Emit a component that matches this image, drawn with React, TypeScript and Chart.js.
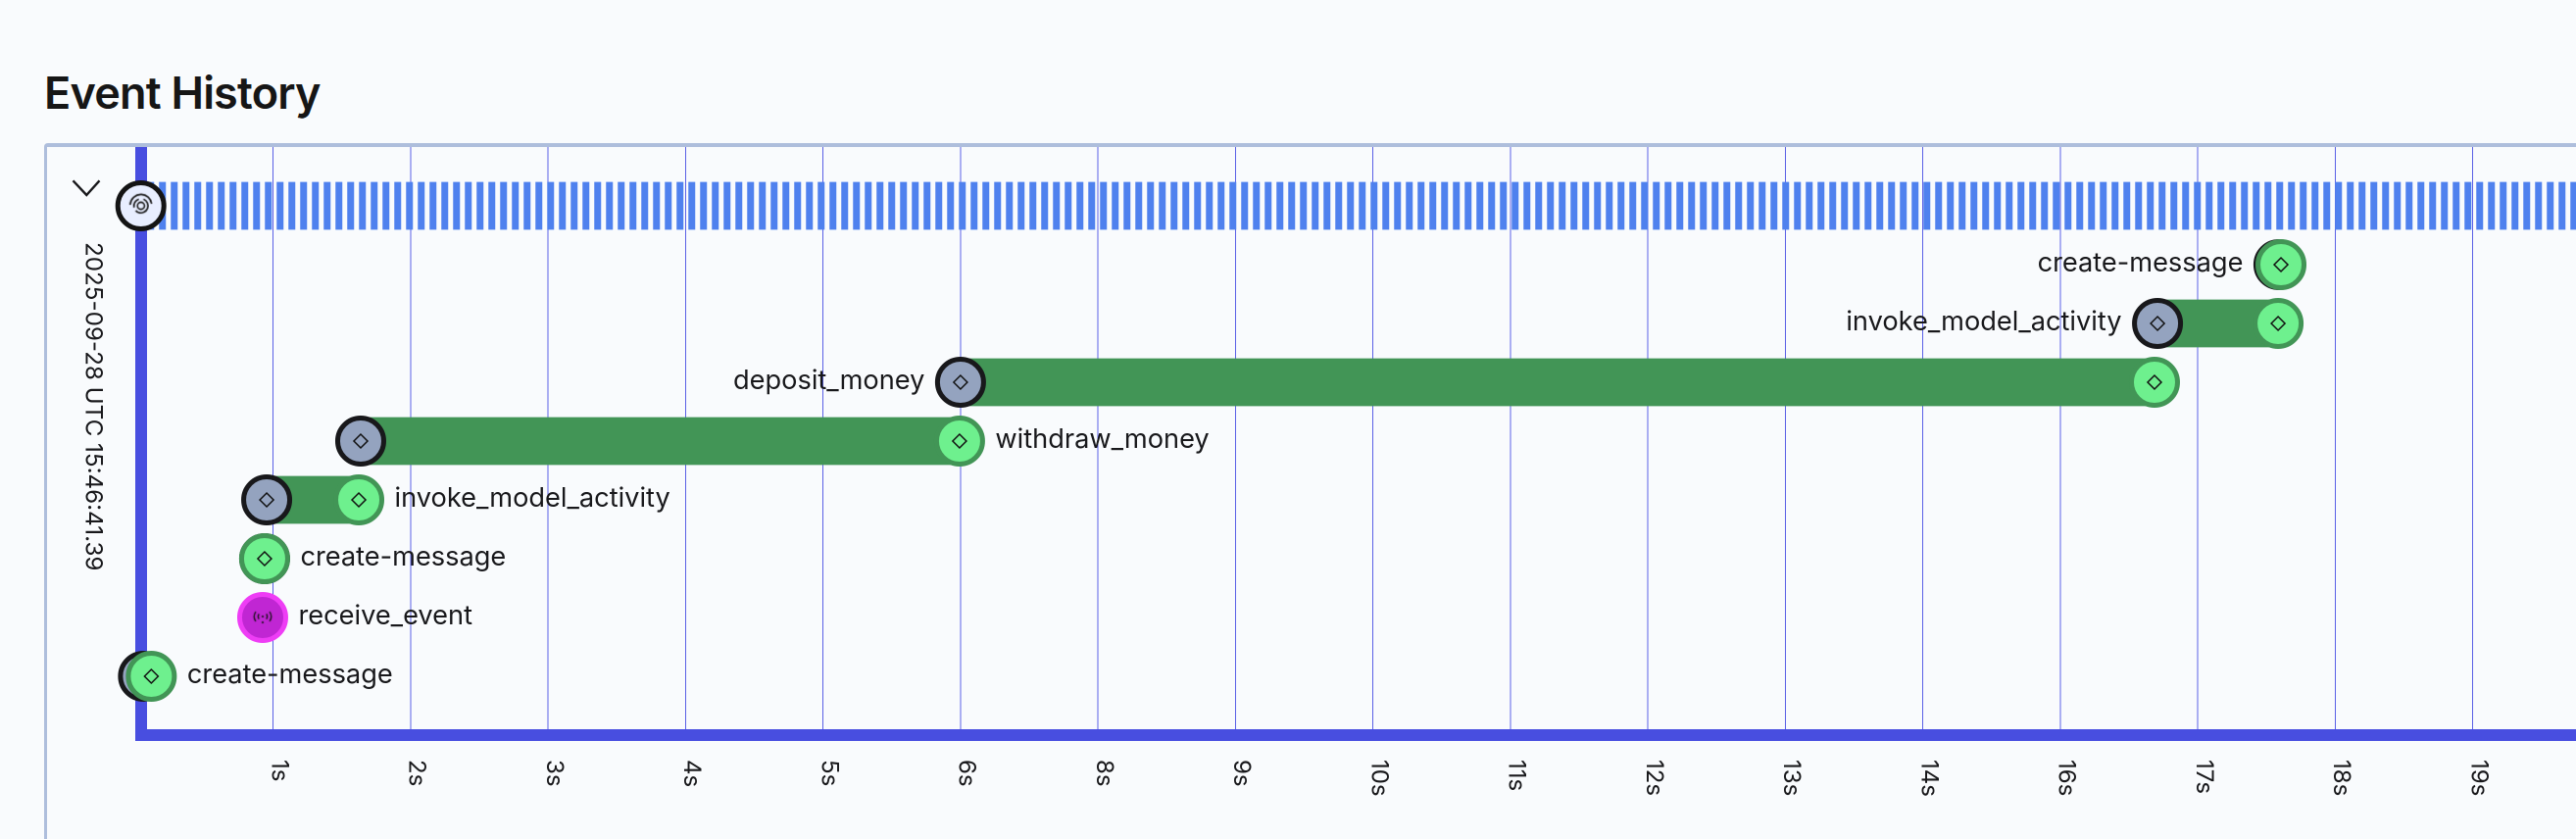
import React, { useEffect, useRef } from "react";
import { Chart, registerables } from "chart.js";

Chart.register(...registerables);

// x values are in axis-tick units: tick n sits at x = n
const TICK_LABELS = ["1s", "2s", "3s", "4s", "5s", "6s", "8s", "9s", "10s", "11s", "12s", "13s", "14s", "16s", "17s", "18s", "19s"];
const X_MIN = 0.04;
const X_MAX = 17.751;

const EVENT_NAMES = ["create-message", "invoke_model_activity", "deposit_money", "withdraw_money", "invoke_model_activity", "create-message", "create-message"];
const EVENT_ROWS = [1, 2, 3, 4, 5, 6, 8];
const EVENT_STARTS = [15.59, 14.707, 6.0, 1.637, 0.953, 0.938, 0.057];
const EVENT_ENDS = [15.605, 15.584, 14.685, 5.993, 1.623, 0.938, 0.114];
const EVENT_LABEL_SIDES = ["left", "left", "left", "right", "right", "right", "right"];

const SIGNAL_NAME = "receive_event";
const SIGNAL_ROW = 7;
const SIGNAL_X = 0.924;

const ROOT_ROW = 0;
const ROOT_X = 0.038;
const TIMESTAMP = "2025-09-28 UTC 15:46:41.39";

const FONT = "Inter, 'Liberation Sans', sans-serif";
const INK = "#18181b";
const AXIS = "#484ee0";

function stripePattern(ctx: CanvasRenderingContext2D) {
  const tile = document.createElement("canvas");
  tile.width = 48;
  tile.height = 4;
  const c = tile.getContext("2d")!;
  c.fillStyle = "#4f81ee";
  // one stripe 6.9 wide per 12 units, phase 6.2
  c.fillRect(25, 0, 23, 4);
  c.fillRect(0, 0, 5, 4);
  const p = ctx.createPattern(tile, "repeat")!;
  p.setTransform(new DOMMatrix().scale(0.25));
  return p;
}

function rootIcon() {
  const cv = document.createElement("canvas");
  cv.width = 30;
  cv.height = 30;
  const c = cv.getContext("2d")!;
  c.strokeStyle = "#141414";
  c.lineWidth = 1.6;
  c.translate(15, 15);
  c.beginPath();
  c.arc(0, 0, 3.6, 0, Math.PI * 2);
  c.stroke();
  c.beginPath();
  c.arc(0, 0, 7.2, -1.2, 2.4);
  c.stroke();
  c.beginPath();
  c.arc(0, 0, 7.2, 2.9, 4.4);
  c.stroke();
  c.beginPath();
  c.arc(0, -0.6, 11, -3.1, -0.15);
  c.stroke();
  return cv;
}

function signalIcon() {
  const cv = document.createElement("canvas");
  cv.width = 30;
  cv.height = 30;
  const c = cv.getContext("2d")!;
  c.strokeStyle = "#111";
  c.fillStyle = "#111";
  c.lineWidth = 1.3;
  c.translate(15, 15);
  for (const [r, a] of [[4.6, 0.6], [8.6, 0.62]] as const) {
    c.beginPath();
    c.arc(0, -1, r, -a, a);
    c.stroke();
    c.beginPath();
    c.arc(0, -1, r, Math.PI - a, Math.PI + a);
    c.stroke();
  }
  c.beginPath();
  c.arc(0, -1, 1.1, 0, Math.PI * 2);
  c.fill();
  c.beginPath();
  c.arc(0, 5, 1.1, 0, Math.PI * 2);
  c.fill();
  return cv;
}

const annotations = {
  id: "annotations",
  afterDatasetsDraw(chart: any) {
    const { ctx, scales } = chart;
    const { x, y } = scales;
    ctx.save();
    ctx.fillStyle = INK;
    ctx.textBaseline = "middle";
    ctx.font = `400 27.2px ${FONT}`;
    const gap = 36.5;
    const lift = 1.4;
    EVENT_NAMES.forEach((name, i) => {
      const py = y.getPixelForValue(EVENT_ROWS[i]) - lift;
      if (EVENT_LABEL_SIDES[i] === "right") {
        ctx.textAlign = "left";
        ctx.fillText(name, x.getPixelForValue(EVENT_ENDS[i]) + gap, py);
      } else {
        ctx.textAlign = "right";
        ctx.fillText(name, x.getPixelForValue(EVENT_STARTS[i]) - gap, py);
      }
    });
    ctx.textAlign = "left";
    ctx.fillText(SIGNAL_NAME, x.getPixelForValue(SIGNAL_X) + gap, y.getPixelForValue(SIGNAL_ROW) - lift);

    // timestamp, reading downward
    ctx.save();
    ctx.translate(47, 97);
    ctx.rotate(Math.PI / 2);
    ctx.font = `400 24.2px ${FONT}`;
    ctx.fillText(TIMESTAMP, 0, 0);
    ctx.restore();

    // collapse chevron
    ctx.strokeStyle = INK;
    ctx.lineWidth = 2.4;
    ctx.beginPath();
    ctx.moveTo(26.5, 34.3);
    ctx.lineTo(40.3, 49);
    ctx.lineTo(53.5, 34.3);
    ctx.stroke();
    ctx.restore();
  },
};

export default function App() {
  const ref = useRef<HTMLCanvasElement>(null);
  useEffect(() => {
    const canvas = ref.current!;
    const ctx = canvas.getContext("2d")!;
    const point = (xs: number[], rows: number[]) => xs.map((v, i) => ({ x: v, y: rows[i] }));
    const ring = (data: any[], fill: string, border: string, order: number) => ({
      type: "scatter",
      data,
      order,
      clip: false,
      pointRadius: 23.5,
      pointBorderWidth: 5,
      pointBackgroundColor: fill,
      pointBorderColor: border,
    });
    const glyph = (data: any[], order: number) => ({
      type: "scatter",
      data,
      order,
      clip: false,
      pointStyle: "rectRot",
      pointRadius: 7,
      pointBorderWidth: 1.5,
      pointBackgroundColor: "rgba(0,0,0,0)",
      pointBorderColor: "#111111",
    });
    const startPts = point(EVENT_STARTS, EVENT_ROWS);
    const endPts = point(EVENT_ENDS, EVENT_ROWS);
    const chart = new Chart(canvas, {
      type: "bar",
      data: {
        datasets: [
          {
            data: [{ x: [ROOT_X, X_MAX], y: ROOT_ROW }],
            backgroundColor: stripePattern(ctx),
            barThickness: 48,
            grouped: false,
            order: 20,
          },
          {
            data: EVENT_ROWS.map((r, i) => ({ x: [EVENT_STARTS[i], EVENT_ENDS[i]], y: r })),
            backgroundColor: "#429556",
            barThickness: 48,
            grouped: false,
            order: 19,
          },
          ring(startPts, "#94a3bf", "#18181b", 18),
          glyph(startPts, 17),
          ring(endPts, "#6ef08e", "#429556", 16),
          glyph(endPts, 15),
          ring([{ x: SIGNAL_X, y: SIGNAL_ROW }], "#c026d3", "#ee3df5", 14),
          { type: "scatter", data: [{ x: SIGNAL_X, y: SIGNAL_ROW }], order: 13, clip: false, pointStyle: signalIcon(), pointRadius: 10 },
          ring([{ x: ROOT_X, y: ROOT_ROW }], "#e8eeff", "#141414", 12),
          { type: "scatter", data: [{ x: ROOT_X, y: ROOT_ROW }], order: 11, clip: false, pointStyle: rootIcon(), pointRadius: 10 },
        ] as any,
      },
      options: {
        animation: false,
        responsive: false,
        devicePixelRatio: 2,
        indexAxis: "y",
        layout: { padding: 0, autoPadding: false },
        events: [],
        plugins: { legend: { display: false }, tooltip: { enabled: false }, title: { display: false } },
        scales: {
          x: {
            type: "linear",
            position: "bottom",
            min: X_MIN,
            max: X_MAX,
            border: { display: true, color: AXIS, width: 12 },
            grid: { display: true, drawTicks: false, color: "#5a60e6", lineWidth: 1 },
            ticks: {
              autoSkip: false,
              minRotation: -90,
              maxRotation: -90,
              mirror: true,
              padding: -25,
              color: INK,
              font: { family: FONT, size: 24, lineHeight: 0.25 },
              callback: (v: any) => TICK_LABELS[Number(v) - 1],
            },
            afterBuildTicks: (axis: any) => {
              axis.ticks = TICK_LABELS.map((_, i) => ({ value: i + 1 }));
            },
            afterFit: (axis: any) => {
              axis.height = 106;
              axis.paddingLeft = axis.paddingRight = axis.paddingTop = axis.paddingBottom = 0;
              axis._getXAxisLabelAlignment = () => "left";
            },
          },
          y: {
            type: "linear",
            position: "left",
            reverse: true,
            offset: false,
            min: -1,
            max: 9,
            border: { display: true, color: AXIS, width: 12 },
            grid: { display: false },
            ticks: { display: false },
            afterFit: (axis: any) => {
              axis.width = 96;
              axis.paddingLeft = axis.paddingRight = axis.paddingTop = axis.paddingBottom = 0;
            },
          },
        },
      },
      plugins: [annotations],
    } as any);
    return () => chart.destroy();
  }, []);

  return (
    <div style={{ position: "fixed", left: 0, top: 0, width: 2628, height: 856, overflow: "hidden", background: "#f9fbfd" }}>
      <h2
        style={{
          position: "absolute",
          left: 45,
          top: 67,
          margin: 0,
          font: `600 45px/56px ${FONT}`,
          color: "#161616",
          letterSpacing: "-0.8px",
        }}
      >
        Event History
      </h2>
      <div
        style={{
          position: "absolute",
          left: 45,
          top: 146,
          width: 2583,
          height: 710,
          boxSizing: "border-box",
          borderTop: "4px solid #aebedc",
          borderLeft: "3px solid #aebedc",
          borderTopLeftRadius: 4,
          overflow: "hidden",
        }}
      >
        <canvas ref={ref} width={2580} height={706} style={{ display: "block" }} />
      </div>
    </div>
  );
}
